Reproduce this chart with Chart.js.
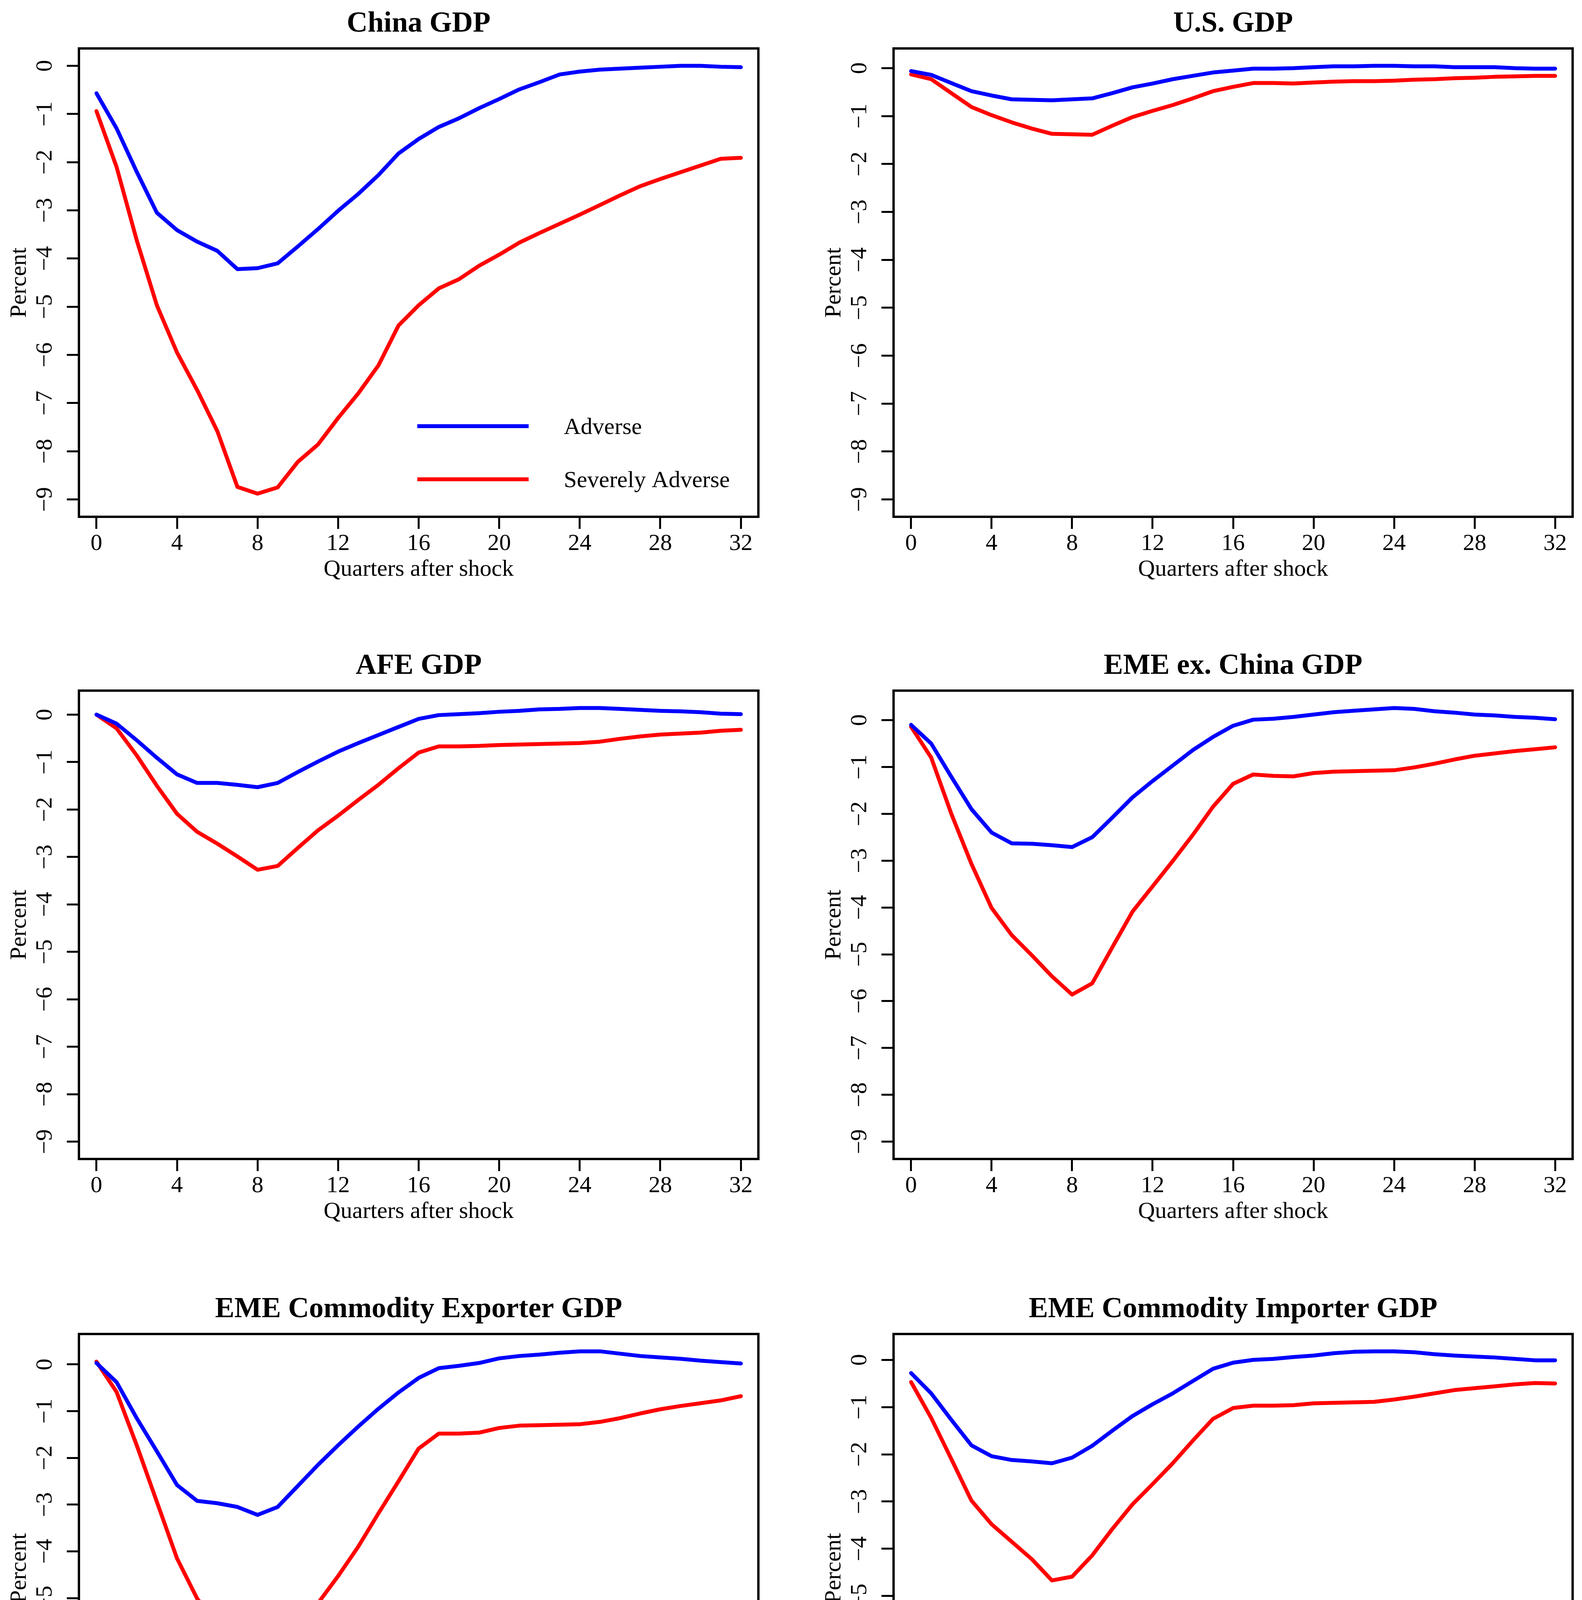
<!DOCTYPE html>
<html>
<head>
<meta charset="utf-8">
<script src="https://cdn.jsdelivr.net/npm/chart.js@4.4.0/dist/chart.umd.min.js"></script>
<style>
html,body{margin:0;padding:0;background:#fff;width:4049px;height:4807px;overflow:hidden;position:relative}
canvas{position:absolute}
</style>
</head>
<body>
<script>
// ---------- data ----------
const quarters = [0,1,2,3,4,5,6,7,8,9,10,11,12,13,14,15,16,17,18,19,20,21,22,23,24,25,26,27,28,29,30,31,32];
const xTicks = [0,4,8,12,16,20,24,28,32];
const yTicks = [0,-1,-2,-3,-4,-5,-6,-7,-8,-9];
const seriesNames = ['Adverse','Severely Adverse'];
const panelTitles = ['China GDP','U.S. GDP','AFE GDP','EME ex. China GDP','EME Commodity Exporter GDP','EME Commodity Importer GDP'];
const xAxisLabel = 'Quarters after shock';
const yAxisLabel = 'Percent';

const chinaAdverse = [-0.57,-1.3,-2.2,-3.05,-3.41,-3.65,-3.84,-4.22,-4.2,-4.1,-3.75,-3.39,-3.01,-2.66,-2.27,-1.82,-1.52,-1.27,-1.09,-0.88,-0.69,-0.49,-0.34,-0.18,-0.12,-0.08,-0.06,-0.04,-0.02,0,0,-0.02,-0.03];
const chinaSevere  = [-0.94,-2.1,-3.62,-4.97,-5.95,-6.73,-7.58,-8.74,-8.88,-8.75,-8.22,-7.86,-7.31,-6.8,-6.22,-5.39,-4.97,-4.62,-4.43,-4.15,-3.92,-3.67,-3.47,-3.28,-3.09,-2.89,-2.69,-2.5,-2.35,-2.21,-2.07,-1.93,-1.91];

const usAdverse = [-0.06,-0.14,-0.31,-0.48,-0.57,-0.65,-0.66,-0.67,-0.65,-0.63,-0.52,-0.4,-0.32,-0.23,-0.16,-0.09,-0.05,-0.01,-0.01,0,0.02,0.04,0.04,0.05,0.05,0.04,0.04,0.02,0.02,0.02,0,-0.01,-0.01];
const usSevere  = [-0.13,-0.23,-0.52,-0.81,-0.98,-1.13,-1.26,-1.37,-1.38,-1.39,-1.2,-1.02,-0.89,-0.77,-0.63,-0.48,-0.39,-0.31,-0.31,-0.32,-0.3,-0.28,-0.27,-0.27,-0.26,-0.24,-0.23,-0.21,-0.2,-0.18,-0.17,-0.16,-0.16];

const afeAdverse = [0,-0.19,-0.54,-0.91,-1.26,-1.44,-1.44,-1.48,-1.53,-1.44,-1.21,-0.99,-0.78,-0.6,-0.43,-0.26,-0.09,-0.01,0.01,0.03,0.06,0.08,0.11,0.12,0.14,0.14,0.12,0.1,0.08,0.07,0.05,0.02,0.01];
const afeSevere  = [0,-0.29,-0.86,-1.5,-2.09,-2.47,-2.72,-2.99,-3.27,-3.19,-2.81,-2.44,-2.13,-1.8,-1.48,-1.13,-0.8,-0.67,-0.67,-0.66,-0.64,-0.63,-0.62,-0.61,-0.6,-0.57,-0.51,-0.46,-0.42,-0.4,-0.38,-0.34,-0.32];

const emeXAdverse = [-0.1,-0.5,-1.21,-1.9,-2.4,-2.63,-2.64,-2.67,-2.71,-2.5,-2.08,-1.65,-1.3,-0.97,-0.64,-0.36,-0.12,0.01,0.03,0.07,0.12,0.17,0.2,0.23,0.26,0.24,0.19,0.16,0.12,0.1,0.07,0.05,0.02];
const emeXSevere  = [-0.14,-0.8,-2.0,-3.07,-4.01,-4.59,-5.02,-5.47,-5.86,-5.62,-4.85,-4.09,-3.55,-3.01,-2.45,-1.85,-1.36,-1.16,-1.19,-1.2,-1.13,-1.1,-1.09,-1.08,-1.07,-1.01,-0.93,-0.84,-0.76,-0.71,-0.66,-0.62,-0.58];

const exporterAdverse = [0.03,-0.38,-1.15,-1.86,-2.58,-2.92,-2.97,-3.05,-3.22,-3.05,-2.6,-2.15,-1.73,-1.33,-0.95,-0.6,-0.29,-0.08,-0.03,0.03,0.13,0.18,0.21,0.25,0.28,0.28,0.23,0.18,0.15,0.12,0.08,0.05,0.02];
const exporterSevere  = [0.06,-0.59,-1.73,-2.94,-4.15,-5.01,-5.55,-6.13,-6.83,-6.71,-5.9,-5.11,-4.53,-3.9,-3.19,-2.5,-1.8,-1.48,-1.48,-1.46,-1.36,-1.31,-1.3,-1.29,-1.28,-1.23,-1.15,-1.05,-0.96,-0.89,-0.83,-0.77,-0.68];

const importerAdverse = [-0.28,-0.71,-1.27,-1.81,-2.04,-2.12,-2.15,-2.19,-2.07,-1.82,-1.5,-1.19,-0.94,-0.71,-0.45,-0.19,-0.06,0,0.02,0.06,0.09,0.14,0.17,0.18,0.18,0.16,0.12,0.09,0.07,0.05,0.02,-0.01,-0.01];
const importerSevere  = [-0.47,-1.23,-2.1,-2.98,-3.48,-3.85,-4.22,-4.67,-4.59,-4.14,-3.58,-3.06,-2.63,-2.19,-1.71,-1.25,-1.02,-0.97,-0.97,-0.96,-0.92,-0.91,-0.9,-0.89,-0.84,-0.78,-0.71,-0.64,-0.6,-0.56,-0.52,-0.49,-0.5];

// ---------- layout / style ----------
const FONT = '"Liberation Serif", "Times New Roman", serif';
const COLORS = ['#0000ff', '#ff0000'];
const panelSeries = [
  [chinaAdverse, chinaSevere],
  [usAdverse, usSevere],
  [afeAdverse, afeSevere],
  [emeXAdverse, emeXSevere],
  [exporterAdverse, exporterSevere],
  [importerAdverse, importerSevere]
];
const colLeft = [0, 2085];
const colWidth = [2143, 2142];
const rowTop = [0, 1644, 3291];
const CANVAS_H = 1503;
const AXIS_W = 202;

const fmtTick = v => v === 0 ? '0' : (v < 0 ? '\u2212' + Math.abs(v) : String(v));

const framePlugin = {
  id: 'frame',
  afterDraw(chart) {
    const {ctx, chartArea: a} = chart;
    ctx.save();
    ctx.strokeStyle = '#000';
    ctx.lineWidth = 6;
    ctx.strokeRect(a.left, a.top, a.right - a.left, a.bottom - a.top);
    ctx.restore();
  }
};

const yLabelPlugin = {
  id: 'yRotLabels',
  afterDraw(chart) {
    const s = chart.scales.y;
    const ctx = chart.ctx;
    ctx.save();
    ctx.fillStyle = '#000';
    ctx.font = '60px ' + FONT;
    ctx.textAlign = 'center';
    ctx.textBaseline = 'middle';
    s.ticks.forEach(t => {
      const y = s.getPixelForValue(t.value);
      ctx.save();
      ctx.translate(s.right - 86, y);
      ctx.rotate(-Math.PI / 2);
      ctx.fillText(fmtTick(t.value), 0, 0);
      ctx.restore();
    });
    ctx.restore();
  }
};

const legendPlugin = {
  id: 'innerLegend',
  afterDraw(chart) {
    const ctx = chart.ctx;
    const rows = [1091, 1227];
    ctx.save();
    ctx.font = '60px ' + FONT;
    ctx.textAlign = 'left';
    ctx.textBaseline = 'alphabetic';
    chart.data.datasets.forEach((ds, i) => {
      const y = rows[i];
      ctx.strokeStyle = ds.borderColor;
      ctx.lineWidth = 10;
      ctx.lineCap = 'butt';
      ctx.beginPath();
      ctx.moveTo(1068, y);
      ctx.lineTo(1353, y);
      ctx.stroke();
      ctx.fillStyle = '#000';
      ctx.fillText(ds.label, 1443, y + 20);
    });
    ctx.restore();
  }
};

panelTitles.forEach((title, p) => {
  const col = p % 2, row = Math.floor(p / 2);
  const cv = document.createElement('canvas');
  cv.width = colWidth[col];
  cv.height = CANVAS_H;
  cv.style.left = colLeft[col] + 'px';
  cv.style.top = rowTop[row] + 'px';
  cv.style.width = colWidth[col] + 'px';
  cv.style.height = CANVAS_H + 'px';
  document.body.appendChild(cv);

  const series = panelSeries[p];
  const hi = Math.max(...series[0], ...series[1]);
  const lo = -9;
  const pad = 0.04 * (hi - lo);

  const datasets = series.map((vals, i) => ({
    label: seriesNames[i],
    data: quarters.map((q, k) => ({x: q, y: vals[k]})),
    borderColor: COLORS[i],
    backgroundColor: COLORS[i],
    borderWidth: 10,
    pointRadius: 0,
    pointHoverRadius: 0,
    fill: false,
    tension: 0,
    borderCapStyle: 'round',
    borderJoinStyle: 'round'
  }));

  const tickGrid = {display: true, drawOnChartArea: false, drawTicks: true, tickLength: 31, tickWidth: 5, tickColor: '#000'};
  const plugins = [framePlugin, yLabelPlugin];
  if (p === 0) plugins.push(legendPlugin);

  new Chart(cv, {
    type: 'line',
    data: {datasets},
    options: {
      responsive: false,
      animation: false,
      devicePixelRatio: 1,
      layout: {padding: 0},
      plugins: {
        legend: {display: false},
        tooltip: {enabled: false},
        title: {
          display: true, text: title, color: '#000',
          font: {family: FONT, size: 74, weight: 'bold', lineHeight: 1.2},
          padding: {top: 17.6, bottom: 17.6}
        }
      },
      scales: {
        x: {
          type: 'linear', min: -0.87, max: 32.87,
          afterBuildTicks: s => { s.ticks = xTicks.map(v => ({value: v})); },
          grid: tickGrid,
          border: {display: true, color: '#000', width: 6},
          ticks: {color: '#000', font: {family: FONT, size: 60}, padding: 2, maxRotation: 0, minRotation: 0, autoSkip: false},
          title: {display: true, text: xAxisLabel, color: '#000', font: {family: FONT, size: 60}, padding: {top: 0, bottom: 9}},
          afterFit: s => { s.height = 180; }
        },
        y: {
          type: 'linear', position: 'left', min: lo - pad, max: hi + pad,
          afterBuildTicks: s => { s.ticks = yTicks.map(v => ({value: v})); },
          grid: tickGrid,
          border: {display: true, color: '#000', width: 6},
          ticks: {display: false},
          title: {display: true, text: yAxisLabel, color: '#000', font: {family: FONT, size: 60}, padding: {top: 14, bottom: 0}},
          afterFit: s => { s.width = AXIS_W; }
        },
        yR: {
          type: 'linear', position: 'right', display: true,
          grid: {display: false}, border: {display: false}, ticks: {display: false},
          afterFit: s => { s.width = AXIS_W; }
        }
      }
    },
    plugins
  });
});
</script>
</body>
</html>
